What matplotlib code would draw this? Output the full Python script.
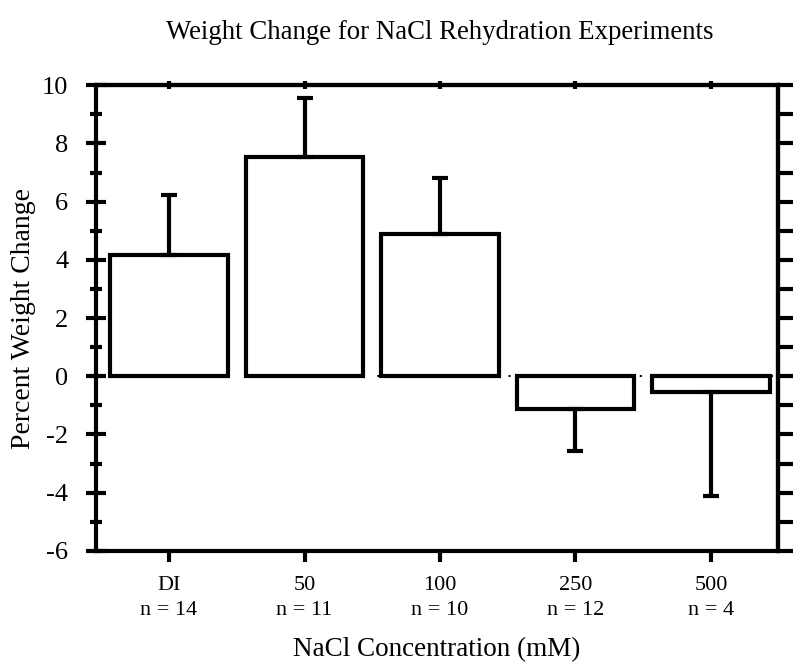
import matplotlib
matplotlib.use('Agg')
import matplotlib.pyplot as plt
import numpy as np

# Data
groups = ['DI', '50', '100', '250', '500']
n_counts = [14, 11, 10, 12, 4]
pct_change = [4.15, 7.55, 4.9, -1.13, -0.55]
pct_err = [2.07, 2.0, 1.9, 1.44, 3.57]

plt.rcParams['font.family'] = ['Liberation Serif', 'DejaVu Serif']
plt.rcParams['axes.unicode_minus'] = False

fig = plt.figure(figsize=(7.93, 6.71), dpi=100)
ax = fig.add_axes([0.121, 0.179, 0.860, 0.694])

x = np.arange(len(groups))
vals = np.array(pct_change)
errs = np.array(pct_err)

ax.axhline(0, color='black', lw=1.5, ls=(0, (1, 8)), zorder=0)
ax.bar(x, vals, width=0.87, facecolor='white', edgecolor='black',
       linewidth=3, zorder=2)

# one-sided error bars, pointing away from zero
lower = np.where(vals < 0, errs, 0)
upper = np.where(vals >= 0, errs, 0)
ax.errorbar(x, vals, yerr=[lower, upper], fmt='none', ecolor='black',
            elinewidth=3, capsize=6, capthick=3, zorder=3)

ax.set_xlim(-0.54, 4.495)
ax.set_ylim(-6, 10)
ax.set_yticks(range(-6, 11, 2))
ax.set_yticks(range(-6, 11, 1), minor=True)
ax.set_xticks(x)
ax.set_xticklabels([f'{g}\nn = {n}' for g, n in zip(groups, n_counts)],
                   linespacing=1.45)

for s in ax.spines.values():
    s.set_linewidth(3)

ax.tick_params(axis='y', which='major', direction='inout', length=14,
               width=3, labelsize=19, pad=13, right=False)
ax.tick_params(axis='y', which='minor', direction='inout', length=9,
               width=3, right=False)
ax.tick_params(axis='x', which='major', direction='out', length=8,
               width=3, labelsize=16, pad=10, top=False)

# right side ticks point outward, top ticks sit on the spine
rax = ax.secondary_yaxis('right')
rax.set_yticks(range(-6, 11, 2))
rax.set_yticks(range(-6, 11, 1), minor=True)
rax.tick_params(which='both', direction='out', length=13, width=3,
                labelright=False)
rax.spines['right'].set_linewidth(3)

tax = ax.secondary_xaxis('top')
tax.set_xticks(x)
tax.tick_params(direction='inout', length=6, width=3, labeltop=False)
tax.spines['top'].set_linewidth(3)

ax.set_ylabel('Percent Weight Change', fontsize=20, labelpad=4)
ax.set_xlabel('NaCl Concentration (mM)', fontsize=19.5, labelpad=12)
fig.text(0.554, 0.952, 'Weight Change for NaCl Rehydration Experiments',
         ha='center', va='center', fontsize=19.3)

fig.savefig('out.png', dpi=100)
